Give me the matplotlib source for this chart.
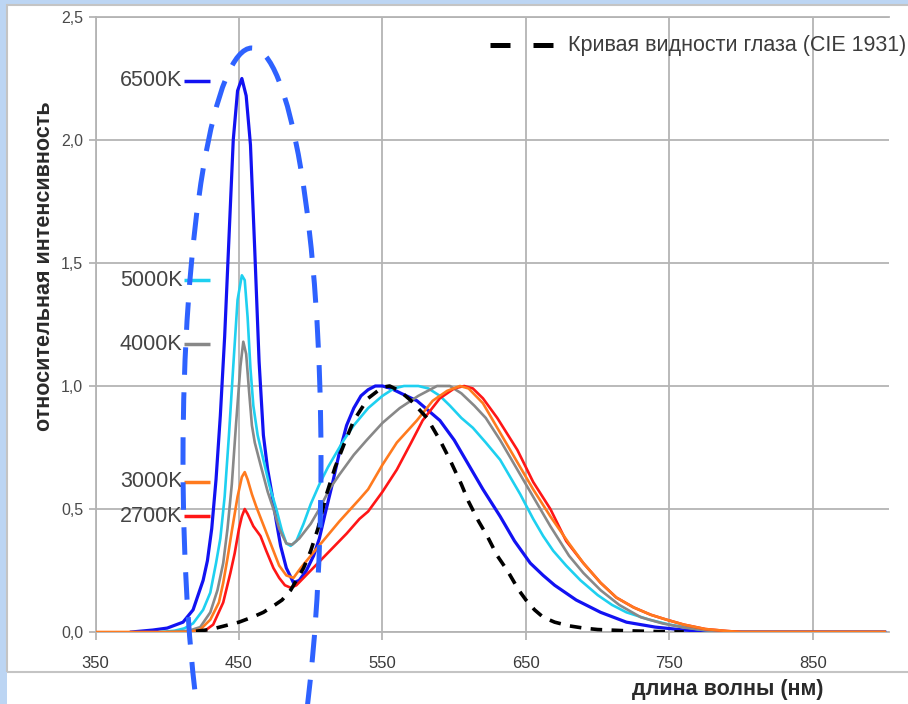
import numpy as np
import matplotlib
matplotlib.use('Agg')
import matplotlib.pyplot as plt
from matplotlib.patches import Ellipse, Rectangle
from matplotlib.lines import Line2D
from matplotlib.ticker import FuncFormatter

plt.rcParams['font.family'] = ['Liberation Sans', 'DejaVu Sans']

# ---------------- data ----------------
wl_6500 = [375, 390, 400, 411, 418, 425, 428, 431, 434, 437, 440, 443, 446, 449, 452, 455, 458, 461, 464,
           467, 470, 473, 476, 479, 483, 488, 492, 497, 502, 506, 510, 515, 520, 525, 530, 535, 540, 545,
           550, 556, 563, 574, 582, 590, 600, 609, 620, 632, 642, 653, 662, 670, 685, 702, 720, 740, 760,
           780, 900]
val_6500 = [0, 0.008, 0.016, 0.04, 0.09, 0.21, 0.29, 0.42, 0.62, 0.88, 1.2, 1.6, 2.0, 2.2, 2.25, 2.18,
            1.98, 1.55, 1.1, 0.8, 0.66, 0.56, 0.45, 0.35, 0.26, 0.2, 0.21, 0.25, 0.31, 0.38, 0.48, 0.6,
            0.73, 0.84, 0.91, 0.96, 0.985, 1.0, 1.0, 0.99, 0.97, 0.94, 0.9, 0.86, 0.78, 0.69, 0.58, 0.47,
            0.37, 0.28, 0.23, 0.19, 0.13, 0.08, 0.04, 0.02, 0.008, 0.0, 0.0]

wl_5000 = [395, 405, 412, 418, 425, 430, 434, 437, 440, 443, 446, 449, 452, 454, 456, 458, 460, 463, 467,
           471, 476, 480, 483, 486, 490, 495, 500, 506, 512, 518, 523, 530, 540, 550, 558, 565, 575, 582,
           590, 597, 605, 613, 622, 632, 640, 646, 655, 662, 669, 678, 688, 700, 710, 720, 736, 750, 771,
           790, 900]
val_5000 = [0, 0.005, 0.015, 0.035, 0.09, 0.16, 0.28, 0.38, 0.55, 0.8, 1.08, 1.35, 1.45, 1.43, 1.28,
            1.07, 0.92, 0.8, 0.7, 0.6, 0.5, 0.41, 0.36, 0.35, 0.37, 0.44, 0.52, 0.6, 0.67, 0.73, 0.78,
            0.84, 0.91, 0.96, 0.99, 1.0, 1.0, 0.99, 0.96, 0.92, 0.87, 0.83, 0.77, 0.7, 0.62, 0.56, 0.46,
            0.39, 0.33, 0.27, 0.21, 0.15, 0.11, 0.08, 0.05, 0.03, 0.01, 0.0, 0.0]

wl_4000 = [400, 415, 423, 430, 435, 439, 442, 445, 448, 451, 453, 455, 457, 459, 461, 465, 470, 474, 478,
           483, 487, 492, 500, 506, 513, 520, 530, 539, 550, 562, 575, 588, 597, 605, 614, 622, 632, 645,
           655, 667, 680, 690, 702, 715, 730, 745, 760, 775, 790, 900]
val_4000 = [0, 0.005, 0.02, 0.08, 0.17, 0.28, 0.42, 0.6, 0.85, 1.08, 1.18, 1.13, 0.98, 0.84, 0.77, 0.68,
            0.57, 0.5, 0.42, 0.36, 0.355, 0.38, 0.44, 0.5, 0.58, 0.64, 0.72, 0.78, 0.85, 0.91, 0.96, 1.0,
            1.0, 0.97, 0.92, 0.87, 0.78, 0.65, 0.55, 0.43, 0.31, 0.24, 0.17, 0.11, 0.06, 0.035, 0.018,
            0.007, 0.0, 0.0]

wl_3000 = [350, 415, 423, 430, 436, 439, 442, 445, 449, 452, 454, 456, 459, 462, 468, 474, 478, 483, 488,
           493, 500, 510, 520, 534, 540, 550, 560, 574, 585, 595, 604, 610, 620, 632, 645, 655, 667, 680,
           690, 702, 713, 725, 737, 748, 760, 775, 790, 800, 900]
val_3000 = [0, 0.0, 0.01, 0.05, 0.12, 0.2, 0.3, 0.41, 0.55, 0.63, 0.65, 0.62, 0.56, 0.51, 0.42, 0.33,
            0.27, 0.23, 0.22, 0.26, 0.31, 0.38, 0.45, 0.54, 0.58, 0.68, 0.77, 0.86, 0.94, 0.98, 1.0, 0.99,
            0.93, 0.81, 0.68, 0.58, 0.47, 0.36, 0.28, 0.2, 0.14, 0.1, 0.07, 0.05, 0.03, 0.012, 0.004, 0.0,
            0.0]

wl_2700 = [425, 432, 439, 444, 447, 450, 452, 454, 456, 460, 465, 469, 474, 478, 482, 486, 490, 495, 505,
           515, 525, 534, 540, 550, 560, 570, 578, 590, 600, 607, 613, 620, 630, 644, 655, 667, 678, 690,
           702, 713, 725, 737, 748, 760, 775, 790, 800, 900]
val_2700 = [0, 0.03, 0.12, 0.24, 0.32, 0.42, 0.47, 0.5, 0.48, 0.43, 0.39, 0.33, 0.26, 0.22, 0.19, 0.18,
            0.19, 0.22, 0.28, 0.34, 0.4, 0.46, 0.49, 0.57, 0.66, 0.77, 0.86, 0.95, 0.99, 1.0, 0.99, 0.95,
            0.87, 0.74, 0.61, 0.5, 0.37, 0.28, 0.2, 0.14, 0.1, 0.07, 0.05, 0.03, 0.012, 0.004, 0.0, 0.0]

wl_cie = [420, 430, 440, 450, 460, 467, 475, 480, 486, 490, 495, 500, 505, 511, 517, 523, 530, 540, 550,
          555, 562, 570, 581, 590, 597, 605, 610, 617, 623, 630, 637, 645, 650, 656, 662, 670, 680, 690,
          700, 720, 740, 760]
val_cie = [0.003, 0.01, 0.025, 0.04, 0.062, 0.08, 0.11, 0.13, 0.17, 0.21, 0.26, 0.33, 0.42, 0.56, 0.67,
           0.76, 0.86, 0.95, 0.995, 1.0, 0.98, 0.94, 0.87, 0.78, 0.7, 0.6, 0.53, 0.45, 0.39, 0.31, 0.25,
           0.17, 0.13, 0.09, 0.06, 0.04, 0.025, 0.016, 0.01, 0.005, 0.002, 0.0]

series_names = ['6500K', '5000K', '4000K', '3000K', '2700K']
series_colors = ['#1212f2', '#1ed0f0', '#888888', '#ff7a1e', '#ff1616']
label_y = [2.24, 1.43, 1.17, 0.61, 0.47]
x_ticks = [350, 450, 550, 650, 750, 850]
y_ticks = [0.0, 0.5, 1.0, 1.5, 2.0, 2.5]
legend_text = 'Кривая видности глаза (CIE 1931)'
x_label = 'длина волны (нм)'
y_label = 'относительная интенсивность'

# ---------------- figure ----------------
W, H = 908, 704
fig = plt.figure(figsize=(W / 100, H / 100), dpi=100)
fig.patch.set_facecolor('#bcd5f3')

# white panel + border
fig.add_artist(Rectangle((7 / W, 0), (W - 7) / W, 699 / H, transform=fig.transFigure,
                         facecolor='white', edgecolor='none', zorder=0))
fig.add_artist(Rectangle((7 / W, 32 / H), (W + 5 - 7) / W, (699 - 32) / H, transform=fig.transFigure,
                         facecolor='none', edgecolor='#c4c4c4', linewidth=1.5, zorder=0.5))

ax = fig.add_axes([95.5 / W, (H - 632) / H, (889 - 95.5) / W, (632 - 17) / H])
ax.set_facecolor('white')
ax.set_xlim(350, 903)
ax.set_ylim(0, 2.5)

gcol = '#b4b4b4'
ax.set_xticks(x_ticks)
ax.set_yticks(y_ticks)
ax.grid(True, color=gcol, linewidth=1.3)
ax.set_axisbelow(True)
ax.spines['right'].set_visible(False)
for s in ['left', 'bottom', 'top']:
    ax.spines[s].set_color(gcol)
    ax.spines[s].set_linewidth(1.3)
ax.tick_params(axis='x', direction='out', length=6, width=1.3, color=gcol, pad=11,
               labelsize=12, labelcolor='#3a3a3a')
ax.tick_params(axis='y', direction='out', length=5, width=1.3, color=gcol, pad=4,
               labelsize=11.5, labelcolor='#4a4a4a')
ax.yaxis.set_major_formatter(FuncFormatter(lambda v, p: f'{v:.1f}'.replace('.', ',')))

series = [(wl_6500, val_6500), (wl_5000, val_5000), (wl_4000, val_4000),
          (wl_2700, val_2700), (wl_3000, val_3000)]
cols = [series_colors[0], series_colors[1], series_colors[2], series_colors[4], series_colors[3]]
lws = [2.3, 1.9, 1.9, 1.9, 1.9]
for (wl, v), c, lw in zip(series, cols, lws):
    ax.plot(wl, v, color=c, linewidth=lw, solid_joinstyle='round', zorder=3)

ax.plot(wl_cie, val_cie, color='black', linewidth=2.6, dashes=(3.2, 2.6), zorder=4)

# series labels with short colored segments
for name, c, y in zip(series_names, series_colors, label_y):
    ax.text(410.5, y, name, ha='right', va='center', fontsize=15.5, color='#444444', zorder=5)
    ax.plot([411.5, 430], [y, y], color=c, linewidth=2.5, solid_capstyle='butt', zorder=5)

# legend (drawn manually)
ly = 1 - 45 / H
fig.add_artist(Line2D([490 / W, 553 / W], [ly, ly], transform=fig.transFigure, color='black',
                      linewidth=3.6, dashes=(4.0, 4.6), solid_capstyle='butt'))
fig.text(568 / W, ly, legend_text, ha='left', va='center', fontsize=15.5, color='#3c3c3c')

# axis titles
fig.text(728 / W, 1 - 690 / H, x_label, ha='center', va='center', fontsize=15.5,
         fontweight='bold', color='#2a2a2a')
fig.text(45 / W, 1 - 266 / H, y_label, ha='center', va='center', rotation=90, fontsize=15.5,
         fontweight='bold', color='#2a2a2a')

# dashed highlight ellipse
fig.add_artist(Ellipse((252 / W, 1 - 460 / H), 138 / W, 824 / H, transform=fig.transFigure,
                       fill=False, edgecolor='#2e62ff', linewidth=3.6, linestyle=(0, (5.5, 3.5)),
                       zorder=10))

fig.savefig('out.png', dpi=100, facecolor=fig.get_facecolor())
